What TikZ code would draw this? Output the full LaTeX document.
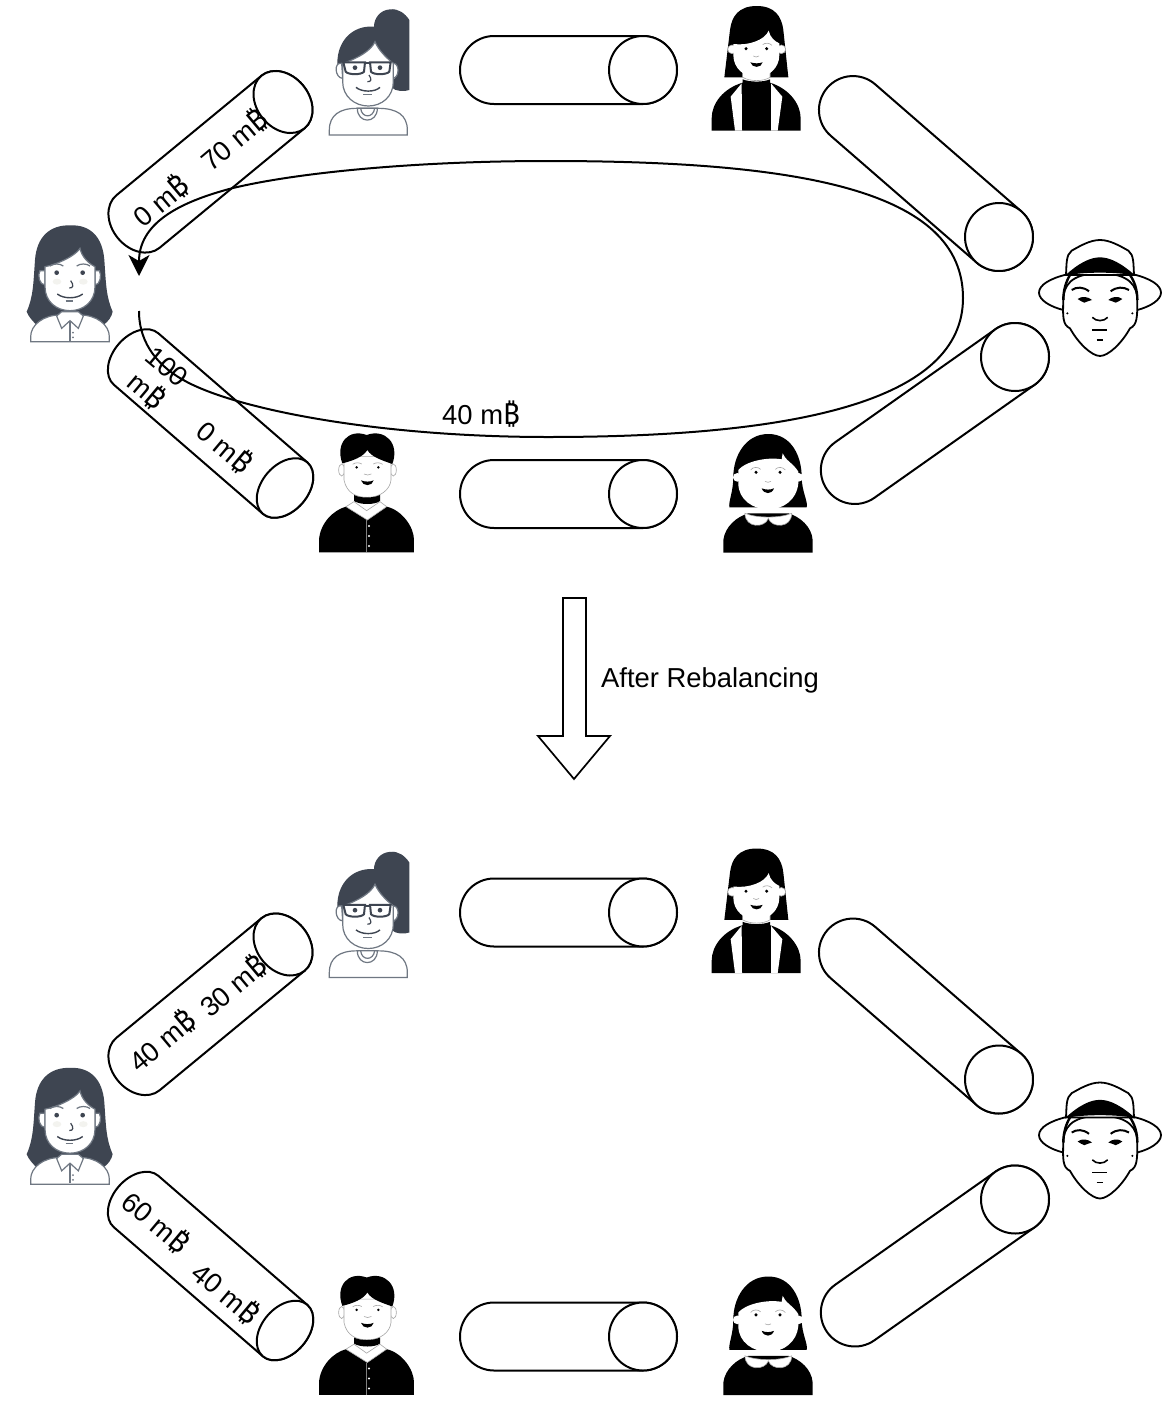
\documentclass[tikz,border=0pt]{standalone}
\usepackage{fontspec}
\setmainfont{Liberation Sans}
\newfontfamily\btfont[Scale=1.06]{Noto Sans}
\usetikzlibrary{arrows.meta}
\definecolor{darkhair}{HTML}{3E4551}
\definecolor{lineg}{HTML}{6F7782}
\definecolor{blush}{HTML}{F3F3EF}
\newcommand{\btc}{{\btfont\char"20BF}}
\newcommand{\txtsize}{\fontsize{27.4}{32}\selectfont}
\tikzset{
  tube/.style={draw=black,line width=2pt,fill=white},
  lbl/.style={font=\txtsize,inner sep=0pt,align=center,text=black},
  gline/.style={draw=lineg,line width=1.2pt},
  gthin/.style={draw=gray!70,line width=.6pt},
  ink/.style={draw=black,line width=1.8pt},
  flow/.style={draw=black,line width=2pt,-{Stealth[length=21pt,width=21pt,inset=6pt]}},
  zoomframe/.style 2 args={shift={(#1,#2)},x=0.33333pt,y=-0.33333pt},
}
% cap centre x, y, rotation, length, semi axis b of ends
\newcommand{\tubeshape}[5]{%
  \begin{scope}[shift={(#1,#2)},rotate=#3]
    \path[tube] (0,-34) -- (-#4,-34) arc[start angle=90,end angle=270,x radius=#5pt,y radius=34pt]
      -- (0,34) arc[start angle=-90,end angle=90,x radius=#5pt,y radius=34pt] -- cycle;
    \path[tube] (0,0) circle[x radius=#5pt,y radius=34pt];
  \end{scope}}
\newcommand{\PersonLeft}{%
 \begin{scope}[zoomframe={0}{0}]
  \fill[darkhair] (212,676) .. controls (150,674) and (110,710) .. (105,780) .. controls (100,850) and (100,890) .. (80,935) .. controls (85,950) and (100,965) .. (110,975) -- (310,975) .. controls (325,965) and (335,950) .. (338,935) .. controls (318,890) and (318,850) .. (313,780) .. controls (308,710) and (270,674) .. (212,676) -- cycle;
  \path[gline,fill=white] (92,1025) -- (92,1010) .. controls (92,975) and (130,945) .. (180,945) -- (240,945) .. controls (290,945) and (328,975) .. (328,1010) -- (328,1025) -- cycle;
  \path[gline,fill=white] (120,812) .. controls (112,825) and (118,855) .. (135,855) -- (135,812) -- cycle;
  \path[gline,fill=white] (298,812) .. controls (306,825) and (300,855) .. (285,855) -- (285,812) -- cycle;
  \path[gline,fill=white] (135,800) .. controls (165,795) and (225,770) .. (240,745) .. controls (245,770) and (265,790) .. (285,800) -- (285,860) .. controls (285,905) and (250,932) .. (210,932) .. controls (170,932) and (135,905) .. (135,860) -- cycle;
  \fill[blush] (171,845) ellipse[x radius=13,y radius=9] (250,845) ellipse[x radius=13,y radius=9];
  \path[gline,fill=white] (170,948) -- (185,985) -- (210,962) -- (235,985) -- (250,948) -- (235,935) -- (185,935) -- cycle;
  \path[gline] (210,962) -- (210,1022);
  \fill[lineg] (219,998) circle[radius=3] (219,1012) circle[radius=3];
  \fill[darkhair] (170,818) circle[radius=7] (248,818) circle[radius=7];
  \path[gline] (150,798) .. controls (160,790) and (180,790) .. (190,798) (230,798) .. controls (240,790) and (260,790) .. (270,798);
  \path[draw=darkhair,line width=1.2pt] (212,842) .. controls (222,855) and (220,865) .. (208,864);
  \path[draw=darkhair,line width=1.4pt] (172,882) .. controls (190,897) and (230,897) .. (248,882);
  \path[gline] (197,903) -- (220,903);
 \end{scope}}
\newcommand{\PersonGlasses}{%
 \begin{scope}[zoomframe={0}{0}]
  \fill[darkhair] (1170,28) .. controls (1140,30) and (1122,55) .. (1122,80) .. controls (1060,75) and (1012,120) .. (1012,190) -- (1012,215) -- (1190,215) -- (1175,262) .. controls (1185,275) and (1215,275) .. (1228,270) -- (1228,60) .. controls (1215,40) and (1195,25) .. (1170,28) -- cycle;
  \path[gline,fill=white] (988,405) -- (988,390) .. controls (988,345) and (1020,325) .. (1070,325) -- (1135,325) .. controls (1190,325) and (1222,345) .. (1222,390) -- (1222,405) -- cycle;
  \path[gline,fill=white] (1072,325) .. controls (1072,372) and (1132,372) .. (1132,325) -- cycle;
  \path[gline] (1082,325) .. controls (1085,355) and (1120,355) .. (1124,325);
  \path[gline,fill=white] (1025,190) .. controls (1000,185) and (1005,235) .. (1028,235) -- cycle;
  \path[gline,fill=white] (1180,190) .. controls (1200,190) and (1198,235) .. (1178,235) -- cycle;
  \path[gline,fill=white] (1028,190) .. controls (1075,175) and (1115,150) .. (1125,125) .. controls (1135,150) and (1160,175) .. (1180,190) -- (1180,245) .. controls (1180,290) and (1145,318) .. (1105,318) .. controls (1065,318) and (1028,290) .. (1028,245) -- cycle;
  \path[draw=darkhair,line width=2pt,fill=white] (1030,187) -- (1095,187) -- (1092,215) .. controls (1085,225) and (1045,225) .. (1037,215) -- cycle;
  \path[draw=darkhair,line width=2pt,fill=white] (1110,187) -- (1172,187) -- (1168,215) .. controls (1160,225) and (1120,225) .. (1113,215) -- cycle;
  \path[draw=darkhair,line width=2pt] (1095,190) -- (1110,190);
  \fill[darkhair] (1065,203) circle[radius=7] (1140,203) circle[radius=7];
  \path[draw=darkhair,line width=1.2pt] (1107,225) .. controls (1116,238) and (1114,246) .. (1102,245);
  \path[draw=darkhair,line width=1.4pt] (1068,262) .. controls (1085,277) and (1125,277) .. (1140,262);
  \path[gline] (1090,284) -- (1115,284);
 \end{scope}}
\newcommand{\PersonBlackTop}{%
 \begin{scope}[zoomframe={690}{0}]
  \fill[black] (200,18) .. controls (145,18) and (125,50) .. (120,90) -- (103,232) -- (295,232) -- (280,90) .. controls (275,50) and (255,18) .. (200,18) -- cycle;
  \path[gthin,fill=white] (126,148) circle[radius=13] (274,148) circle[radius=13];
  \path[gthin,fill=white] (158,215) -- (158,232) .. controls (180,245) and (220,245) .. (240,232) -- (240,215) -- cycle;
  \fill[white] (130,132) .. controls (175,138) and (225,120) .. (236,92) .. controls (240,112) and (255,125) .. (268,130) -- (268,165) .. controls (268,205) and (235,232) .. (199,232) .. controls (163,232) and (130,205) .. (130,165) -- cycle;
  \fill[black] (65,392) -- (65,355) .. controls (65,310) and (100,265) .. (158,248) -- (158,238) .. controls (180,247) and (220,247) .. (240,238) -- (240,248) .. controls (295,265) and (332,310) .. (332,355) -- (332,392) -- cycle;
  \fill[white] (155,250) -- (122,290) -- (135,392) -- (156,392) -- cycle (243,250) -- (277,290) -- (263,392) -- (243,392) -- cycle;
  \fill[black] (168,146) circle[radius=5] (230,146) circle[radius=5];
  \path[gthin] (218,134) .. controls (225,128) and (238,128) .. (246,136) (190,168) .. controls (195,172) and (202,172) .. (207,168);
  \fill[black] (181,187) .. controls (195,191) and (205,191) .. (218,187) .. controls (214,205) and (186,205) .. (181,187) -- cycle;
 \end{scope}}
\newcommand{\PersonHat}{%
 \begin{scope}[zoomframe={690}{0}]
  \path[ink,fill=white] (1132,823) .. controls (1080,835) and (1047,855) .. (1047,878) .. controls (1047,900) and (1080,920) .. (1120,930) -- (1342,930) .. controls (1380,920) and (1413,900) .. (1413,878) .. controls (1413,855) and (1380,835) .. (1330,823) -- cycle;
  \path[ink,fill=white] (1120,900) .. controls (1118,950) and (1118,975) .. (1140,985) .. controls (1165,1030) and (1205,1068) .. (1230,1068) .. controls (1255,1068) and (1295,1030) .. (1320,985) .. controls (1342,975) and (1342,950) .. (1342,900) .. controls (1342,860) and (1320,820) .. (1230,820) .. controls (1140,820) and (1120,860) .. (1120,900) -- cycle;
  \path[ink,fill=white] (1128,825) .. controls (1130,790) and (1128,765) .. (1145,752) .. controls (1170,738) and (1200,720) .. (1230,720) .. controls (1260,720) and (1290,738) .. (1315,752) .. controls (1332,765) and (1330,790) .. (1332,825) -- cycle;
  \fill[black] (1125,827) .. controls (1165,790) and (1200,772) .. (1230,772) .. controls (1260,772) and (1295,790) .. (1336,827) .. controls (1280,815) and (1180,815) .. (1125,827) -- cycle;
  \path[draw=black,line width=2.4pt] (1120,900) .. controls (1120,870) and (1128,845) .. (1140,825) (1342,900) .. controls (1342,870) and (1334,845) .. (1320,825);
  \path[draw=black,line width=2pt] (1145,870) .. controls (1160,860) and (1180,860) .. (1197,874) (1262,874) .. controls (1280,860) and (1300,860) .. (1317,870);
  \fill[black] (1163,897) .. controls (1175,887) and (1195,890) .. (1206,900) .. controls (1195,900) and (1190,908) .. (1183,908) .. controls (1175,908) and (1172,900) .. (1163,897) -- cycle;
  \fill[black] (1255,900) .. controls (1265,890) and (1285,887) .. (1297,897) .. controls (1288,900) and (1285,908) .. (1277,908) .. controls (1270,908) and (1265,900) .. (1255,900) -- cycle;
  \path[draw=black,line width=1.6pt] (1207,952) .. controls (1218,965) and (1242,965) .. (1253,952);
  \path[draw=black,line width=1.6pt] (1207,990) -- (1252,990) (1220,1020) -- (1240,1020);
  \fill[black] (1132,940) circle[radius=3.5] (1327,940) circle[radius=3.5];
 \end{scope}}
\newcommand{\PersonCollar}{%
 \begin{scope}[zoomframe={700}{420}]
  \fill[black] (205,42) .. controls (135,42) and (100,110) .. (100,170) .. controls (100,215) and (85,245) .. (88,262) -- (320,262) .. controls (325,245) and (305,215) .. (305,170) .. controls (305,110) and (275,42) .. (205,42) -- cycle;
  \fill[white] (112,172) circle[radius=13] (296,172) circle[radius=13];
  \fill[white] (115,150) .. controls (135,125) and (200,110) .. (245,118) -- (248,100) .. controls (255,120) and (280,130) .. (295,155) -- (295,190) .. controls (290,240) and (250,268) .. (205,268) .. controls (160,268) and (115,240) .. (115,190) -- cycle;
  \fill[black] (70,398) -- (70,360) .. controls (75,320) and (110,290) .. (145,280) -- (265,280) .. controls (300,290) and (335,320) .. (338,360) -- (338,398) -- cycle;
  \path[gthin,fill=white] (135,280) .. controls (135,325) and (195,325) .. (205,295) .. controls (215,325) and (275,325) .. (275,280) .. controls (240,295) and (170,295) .. (135,280) -- cycle;
  \fill[black] (168,157) circle[radius=5] (240,157) circle[radius=5];
  \path[gthin] (152,150) .. controls (158,140) and (175,140) .. (182,148) (226,148) .. controls (233,140) and (248,140) .. (256,150) (195,184) .. controls (200,188) and (208,188) .. (213,184);
  \fill[black] (185,205) .. controls (198,210) and (210,210) .. (222,205) .. controls (216,224) and (192,224) .. (185,205) -- cycle;
 \end{scope}}
\newcommand{\PersonBoy}{%
 \begin{scope}[zoomframe={90}{300}]
  \path[gthin,fill=white] (755,510) ellipse[x radius=9,y radius=18] (910,510) ellipse[x radius=9,y radius=18];
  \path[gthin,fill=white] (762,470) -- (762,540) .. controls (770,580) and (800,592) .. (832,592) .. controls (870,592) and (900,570) .. (903,540) -- (903,470) -- cycle;
  \fill[black] (757,490) .. controls (735,430) and (775,385) .. (830,405) .. controls (885,385) and (930,430) .. (907,492) .. controls (880,482) and (845,472) .. (832,450) .. controls (820,470) and (790,482) .. (757,490) -- cycle;
  \fill[black] (792,585) -- (792,603) .. controls (810,615) and (855,615) .. (870,603) -- (870,585) .. controls (850,595) and (810,595) .. (792,585) -- cycle;
  \fill[black] (687,757) -- (687,720) .. controls (690,670) and (730,630) .. (768,620) -- (832,660) -- (890,620) .. controls (935,630) and (972,680) .. (972,720) -- (972,757) -- cycle;
  \path[gthin,fill=white] (768,620) -- (792,605) -- (830,632) -- (870,605) -- (890,620) -- (832,660) -- cycle;
  \path[draw=gray,line width=.7pt] (830,660) -- (830,757);
  \fill[white] (837,678) circle[radius=3.5] (837,708) circle[radius=3.5] (837,738) circle[radius=3.5];
  \fill[black] (800,502) circle[radius=4] (865,502) circle[radius=4];
  \path[gthin] (788,493) .. controls (795,487) and (808,487) .. (815,492) (850,492) .. controls (858,487) and (870,487) .. (878,493) (822,522) .. controls (828,526) and (838,526) .. (844,522);
  \fill[black] (813,541) .. controls (825,546) and (840,546) .. (851,541) .. controls (847,560) and (818,560) .. (813,541) -- cycle;
 \end{scope}}
\newcommand{\ringscene}{%
  \tubeshape{283}{102}{39.5}{188}{26}
  \tubeshape{643}{70}{0}{149}{34}
  \tubeshape{999}{237}{-41}{193.5}{34}
  \tubeshape{1015}{357}{35.2}{196}{34}
  \tubeshape{643}{494}{0}{149}{34}
  \tubeshape{285}{488}{-40.9}{197}{23}
  \PersonLeft \PersonGlasses \PersonBlackTop \PersonHat \PersonCollar \PersonBoy}
\begin{document}
\begin{tikzpicture}[x=1pt,y=-1pt]
\useasboundingbox (0,0) rectangle (1171,1419);
\fill[white] (0,0) rectangle (1171,1419);
\begin{scope}\ringscene\end{scope}
\begin{scope}[shift={(0,842.5)}]\ringscene\end{scope}
% rebalancing route
\coordinate (routeStart) at (139,311);
\coordinate (routeBend) at (187,382);
\coordinate (routeLow) at (548,437);
\coordinate (routeRight) at (963,298);
\coordinate (routeTop) at (548,161);
\coordinate (routeTurn) at (233,188);
\coordinate (routeEnd) at (139,276);
\path[flow] (routeStart) .. controls (139,345) and (160,368) .. (routeBend)
  .. controls (240,410) and (380,437) .. (routeLow)
  .. controls (800,437) and (963,400) .. (routeRight)
  .. controls (963,190) and (800,161) .. (routeTop)
  .. controls (420,161) and (300,172) .. (routeTurn)
  .. controls (175,203) and (139,225) .. (routeEnd);
% labels, upper ring
\node[lbl,rotate=40] (upA) at (161,201) {0 m\btc};
\node[lbl,rotate=40] (upB) at (234,140) {70 m\btc};
\node[lbl,rotate=-40] (upC) at (156,380) {100\\m\btc};
\node[lbl,rotate=-40] (upD) at (225,447) {0 m\btc};
\node[lbl] (amount) at (481,414.5) {40 m\btc};
% transition
\path[draw=black,line width=1.7pt,fill=white] (563,598) -- (586,598) -- (586,736) -- (610,736) -- (574,779) -- (538,736) -- (563,736) -- cycle;
\node[lbl,anchor=west] (after) at (601,680) {After Rebalancing};
% labels, lower ring
\node[lbl,rotate=40] (loA) at (162,1041) {40 m\btc};
\node[lbl,rotate=40] (loB) at (233,986) {30 m\btc};
\node[lbl,rotate=-40] (loC) at (156,1222) {60 m\btc};
\node[lbl,rotate=-40] (loD) at (226,1293) {40 m\btc};
\end{tikzpicture}
\end{document}
